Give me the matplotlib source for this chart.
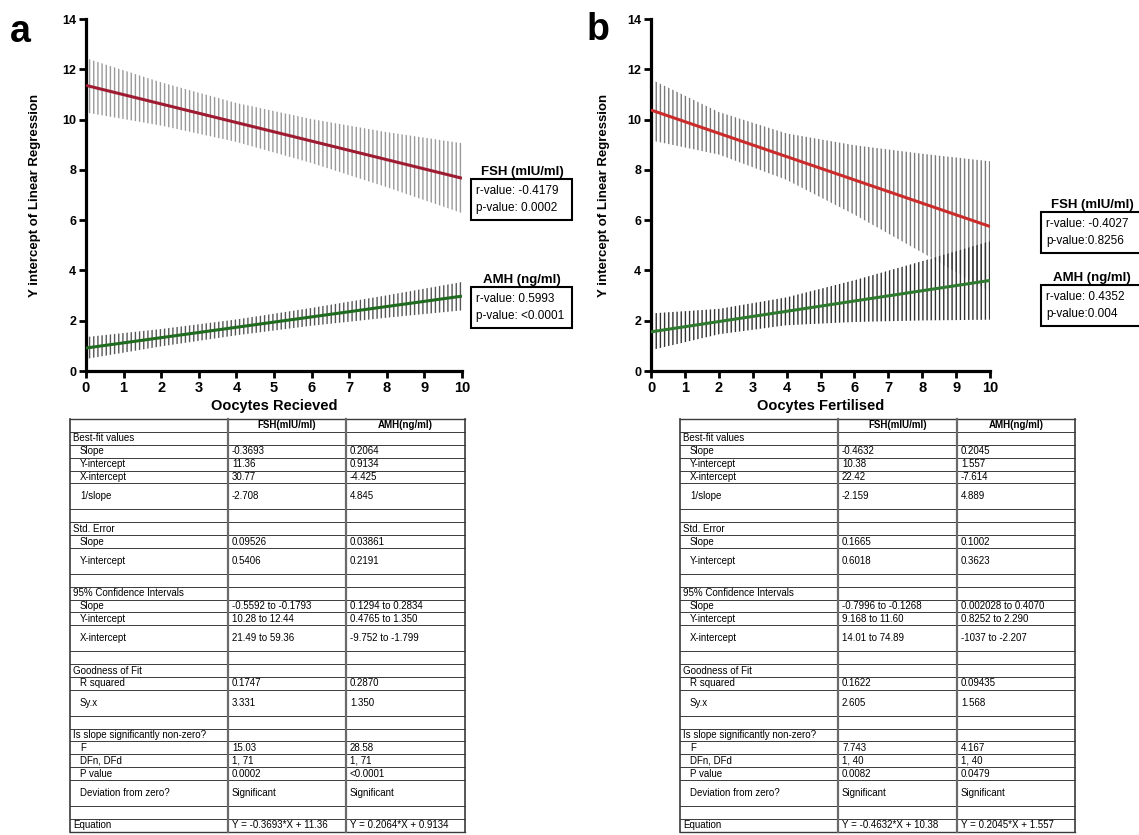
import matplotlib
matplotlib.use("Agg")
import matplotlib.pyplot as plt
from matplotlib.patches import Rectangle

plt.rcParams['font.family'] = ['Liberation Sans', 'DejaVu Sans']
plt.rcParams['hatch.linewidth'] = 1.0

# regression lines (value at x=0 and x=10)
line_x = [0, 10]
fsh_a_line = [11.36, 7.667]
amh_a_line = [0.9134, 2.977]
fsh_b_line = [10.38, 5.748]
amh_b_line = [1.557, 3.602]

# 95% confidence bands read at x = 0, 2, 4, 6, 8, 10
band_x = [0, 2, 4, 6, 8, 10]
fsh_a_lo = [10.28, 9.76, 9.11, 8.27, 7.31, 6.28]
fsh_a_hi = [12.44, 11.48, 10.66, 10.02, 9.50, 9.06]
amh_a_lo = [0.48, 0.98, 1.42, 1.80, 2.12, 2.41]
amh_a_hi = [1.35, 1.67, 2.05, 2.51, 3.01, 3.54]
fsh_b_lo = [9.17, 8.61, 7.60, 6.22, 4.71, 3.16]
fsh_b_hi = [11.60, 10.30, 9.45, 8.98, 8.64, 8.34]
amh_b_lo = [0.83, 1.46, 1.82, 1.95, 2.01, 2.04]
amh_b_hi = [2.29, 2.47, 2.93, 3.61, 4.37, 5.16]

x_ticks = list(range(0, 11))
y_ticks = [0, 2, 4, 6, 8, 10, 12, 14]

stats_a = {"FSH": ("-0.4179", " 0.0002"), "AMH": ("0.5993", " <0.0001")}
stats_b = {"FSH": ("-0.4027", "0.8256"), "AMH": ("0.4352", "0.004")}

# regression summary tables
row_labels = ["", "Best-fit values", "Slope", "Y-intercept", "X-intercept", "1/slope", "",
              "Std. Error", "Slope", "Y-intercept", "",
              "95% Confidence Intervals", "Slope", "Y-intercept", "X-intercept", "",
              "Goodness of Fit", "R squared", "Sy.x", "",
              "Is slope significantly non-zero?", "F", "DFn, DFd", "P value",
              "Deviation from zero?", "", "Equation"]
indented = [0, 0, 1, 1, 1, 1, 0, 0, 1, 1, 0, 0, 1, 1, 1, 0, 0, 1, 1, 0, 0, 1, 1, 1, 1, 0, 0]
tall = [0, 0, 0, 0, 0, 1, 0, 0, 0, 1, 0, 0, 0, 0, 1, 0, 0, 0, 1, 0, 0, 0, 0, 0, 1, 0, 0]

fsh_a_col = ["FSH(mIU/ml)", "", "-0.3693", "11.36", "30.77", "-2.708", "", "", "0.09526", "0.5406",
             "", "", "-0.5592 to -0.1793", "10.28 to 12.44", "21.49 to 59.36", "", "", "0.1747",
             "3.331", "", "", "15.03", "1, 71", "0.0002", "Significant", "", "Y = -0.3693*X + 11.36"]
amh_a_col = ["AMH(ng/ml)", "", "0.2064", "0.9134", "-4.425", "4.845", "", "", "0.03861", "0.2191",
             "", "", "0.1294 to 0.2834", "0.4765 to 1.350", "-9.752 to -1.799", "", "", "0.2870",
             "1.350", "", "", "28.58", "1, 71", "<0.0001", "Significant", "", "Y = 0.2064*X + 0.9134"]
fsh_b_col = ["FSH(mIU/ml)", "", "-0.4632", "10.38", "22.42", "-2.159", "", "", "0.1665", "0.6018",
             "", "", "-0.7996 to -0.1268", "9.168 to 11.60", "14.01 to 74.89", "", "", "0.1622",
             "2.605", "", "", "7.743", "1, 40", "0.0082", "Significant", "", "Y = -0.4632*X + 10.38"]
amh_b_col = ["AMH(ng/ml)", "", "0.2045", "1.557", "-7.614", "4.889", "", "", "0.1002", "0.3623",
             "", "", "0.002028 to 0.4070", "0.8252 to 2.290", "-1037 to -2.207", "", "", "0.09435",
             "1.568", "", "", "4.167", "1, 40", "0.0479", "Significant", "", "Y = 0.2045*X + 1.557"]

W, H = 1139, 835
fig = plt.figure(figsize=(W / 100, H / 100), dpi=100)


def px_axes(left, top, right, bottom):
    return fig.add_axes([left / W, 1 - bottom / H, (right - left) / W, (bottom - top) / H])


def style_axes(ax, xlabel):
    ax.set_xlim(0, 10)
    ax.set_ylim(0, 14)
    ax.set_xticks(x_ticks)
    ax.set_yticks(y_ticks)
    for s in ["top", "right"]:
        ax.spines[s].set_visible(False)
    for s in ["left", "bottom"]:
        ax.spines[s].set_linewidth(2.3)
    ax.tick_params(width=2, length=5, pad=2)
    for lab in ax.get_xticklabels():
        lab.set_fontweight("bold")
        lab.set_fontsize(10.5)
    for lab in ax.get_yticklabels():
        lab.set_fontweight("bold")
        lab.set_fontsize(9)
    ax.set_xlabel(xlabel, fontsize=10.5, fontweight="bold")
    ax.set_ylabel("Y intercept of Linear Regression", fontsize=9.5, fontweight="bold")
    ax.xaxis.set_label_coords(0.5, -0.08)
    ax.yaxis.set_label_coords(-0.12, 0.5)


def draw_panel(ax, fsh_lo, fsh_hi, amh_lo, amh_hi, fsh_line, amh_line,
               fsh_band_col, amh_band_col, red, green):
    ax.fill_between(band_x, fsh_lo, fsh_hi, facecolor="none", edgecolor=fsh_band_col,
                    hatch="||||", linewidth=0, zorder=1)
    ax.fill_between(band_x, amh_lo, amh_hi, facecolor="none", edgecolor=amh_band_col,
                    hatch="||||", linewidth=0, zorder=1)
    ax.plot(line_x, fsh_line, color=red, lw=2.2, zorder=3, solid_capstyle="butt")
    ax.plot(line_x, amh_line, color=green, lw=2.2, zorder=3, solid_capstyle="butt")


ax_a = px_axes(86, 19, 462, 371)
draw_panel(ax_a, fsh_a_lo, fsh_a_hi, amh_a_lo, amh_a_hi, fsh_a_line, amh_a_line,
           "#9a9a9a", "#555555", "#9e1b32", "#1f6b1f")
style_axes(ax_a, "Oocytes Recieved")

ax_b = px_axes(651, 19, 990, 371)
draw_panel(ax_b, fsh_b_lo, fsh_b_hi, amh_b_lo, amh_b_hi, fsh_b_line, amh_b_line,
           "#7a7a7a", "#333333", "#cc2b2b", "#2e7a2e")
style_axes(ax_b, "Oocytes Fertilised")

# overlay in pixel coordinates for letters, stat boxes and tables
ov = fig.add_axes([0, 0, 1, 1])
ov.set_xlim(0, W)
ov.set_ylim(H, 0)
ov.axis("off")

ov.text(20, 32, "a", fontsize=27, fontweight="bold", ha="center", va="center")
ov.text(598, 30, "b", fontsize=27, fontweight="bold", ha="center", va="center")


def stat_box(x0, top, name, stats):
    ov.text(x0 + 51, top - 7, name, fontsize=9.5, fontweight="bold", ha="center", va="center")
    ov.add_patch(Rectangle((x0, top), 101, 41, facecolor="white", edgecolor="black", lw=1.5))
    ov.text(x0 + 5, top + 12, "r-value: " + stats[0], fontsize=8.5, va="center")
    ov.text(x0 + 5, top + 29, "p-value:" + stats[1], fontsize=8.5, va="center")


stat_box(471, 179, "FSH (mIU/ml)", stats_a["FSH"])
stat_box(471, 287, "AMH (ng/ml)", stats_a["AMH"])
stat_box(1041, 212, "FSH (mIU/ml)", stats_b["FSH"])
stat_box(1041, 285, "AMH (ng/ml)", stats_b["AMH"])


def draw_table(left, c1, c2, right, col1, col2, top=419, h=12.9):
    ys = [top]
    for t in tall:
        ys.append(ys[-1] + (2 * h if t else h))
    for i, y in enumerate(ys):
        lw = 1.0 if i in (0, len(ys) - 1) else 0.7
        ov.plot([left, right], [y, y], color="#3a3a3a", lw=lw)
    for x in (left, right):
        ov.plot([x, x], [ys[0], ys[-1]], color="#3a3a3a", lw=1.2)
    for x in (c1, c2):
        ov.plot([x, x], [ys[0], ys[-1]], color="#6a6a6a", lw=1.6)
    fs = 7
    for i in range(len(row_labels)):
        yc = (ys[i] + ys[i + 1]) / 2
        ov.text(left + (10 if indented[i] else 3), yc, row_labels[i], fontsize=fs, va="center")
        if i == 0:
            ov.text((c1 + c2) / 2, yc, col1[i], fontsize=fs, fontweight="bold", ha="center", va="center")
            ov.text((c2 + right) / 2, yc, col2[i], fontsize=fs, fontweight="bold", ha="center", va="center")
        else:
            ov.text(c1 + 4, yc, col1[i], fontsize=fs, va="center")
            ov.text(c2 + 4, yc, col2[i], fontsize=fs, va="center")


draw_table(70, 228, 346, 465, fsh_a_col, amh_a_col)
draw_table(680, 838, 957, 1075, fsh_b_col, amh_b_col)

fig.savefig("out.png", dpi=100)
